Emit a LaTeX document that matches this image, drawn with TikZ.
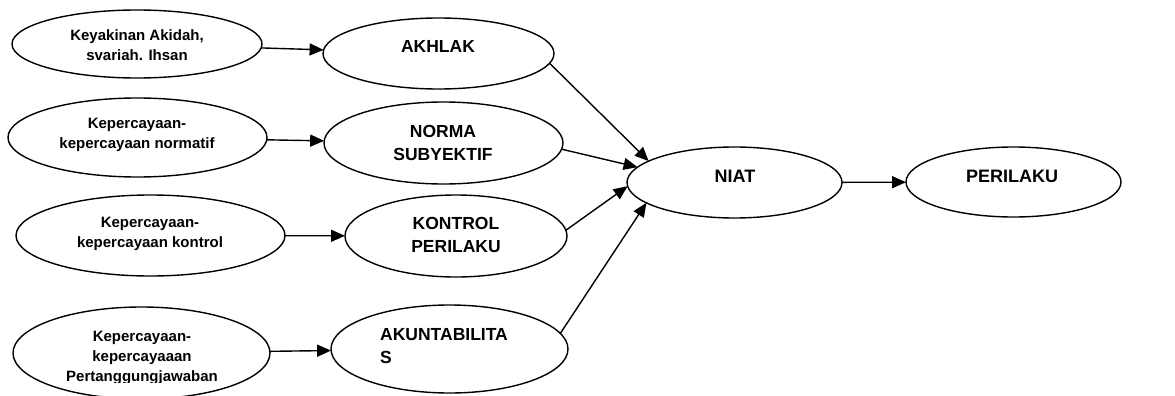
\documentclass[tikz,border=0pt]{standalone}
\usepackage{fontspec}
\setmainfont{Liberation Sans}
\usetikzlibrary{shapes.geometric,arrows.meta}
\tikzset{
  ell/.style={draw, ellipse, line width=1.4pt, inner sep=0pt, outer sep=0pt},
  small/.style={font=\fontsize{15}{20}\selectfont\bfseries, align=center, inner sep=0pt},
  big/.style={font=\fontsize{17.5}{23}\selectfont\bfseries, align=center, inner sep=0pt},
  arr/.style={line width=1.4pt, -{Triangle[length=14pt,width=12pt]}}
}
\begin{document}
\begin{tikzpicture}[x=1pt,y=-1pt]
\useasboundingbox (0,0) rectangle (1175,396);
% left ellipses
\node[ell, minimum width=250pt, minimum height=68pt] (k1) at (137,44) {};
\node[ell, minimum width=259pt, minimum height=79pt] (k2) at (137.5,137.5) {};
\node[ell, minimum width=269pt, minimum height=81pt] (k3) at (150.5,235.5) {};
\node[ell, minimum width=257pt, minimum height=92pt] (k4) at (141.5,353) {};
% middle ellipses
\node[ell, minimum width=231pt, minimum height=71pt] (akh) at (438.5,53.5) {};
\node[ell, minimum width=239pt, minimum height=82pt] (nor) at (443.5,143) {};
\node[ell, minimum width=222pt, minimum height=82pt] (kon) at (456,236) {};
\node[ell, minimum width=237pt, minimum height=88pt] (aku) at (449.5,349) {};
% right ellipses
\node[ell, minimum width=215pt, minimum height=71pt] (niat) at (734.5,182.5) {};
\node[ell, minimum width=215pt, minimum height=70pt] (per) at (1013.5,182) {};
% texts
\node[small] (t1) at (137,45) {Keyakinan Akidah,\\svariah. Ihsan};
\node[small] (t2) at (137,135) {Kepercayaan-\\kepercayaan normatif};
\node[small] (t3) at (150,234) {Kepercayaan-\\kepercayaan kontrol};
\begin{scope}
\clip (0,300) rectangle (300,382);
\node[small] (t4) at (142,358) {Kepercayaan-\\kepercayaaan\\Pertanggungjawaban};
\end{scope}
\node[big] (ta) at (438,46) {AKHLAK};
\node[big] (tn) at (443,143) {NORMA\\SUBYEKTIF};
\node[big] (tk) at (456,235) {KONTROL\\PERILAKU};
\node[big, align=left, anchor=west] (tu) at (380,346) {AKUNTABILITA\\S};
\node[big, font=\fontsize{18}{23}\selectfont\bfseries] (tni) at (735,176) {NIAT};
\node[big, font=\fontsize{18}{23}\selectfont\bfseries] (tpe) at (1012,176) {PERILAKU};
% connectors
\draw[arr] (k1) -- (akh);
\draw[arr] (k2) -- (nor);
\draw[arr] (k3) -- (kon);
\draw[arr] (k4) -- (aku);
\draw[arr] (akh.-5) -- (niat.166);
\draw[arr] (nor.-3) -- (niat.171);
\draw[arr] (kon.3) -- (niat.182);
\draw[arr] (aku.8) -- (niat.193);
\draw[arr] (niat) -- (per);
\end{tikzpicture}
\end{document}
